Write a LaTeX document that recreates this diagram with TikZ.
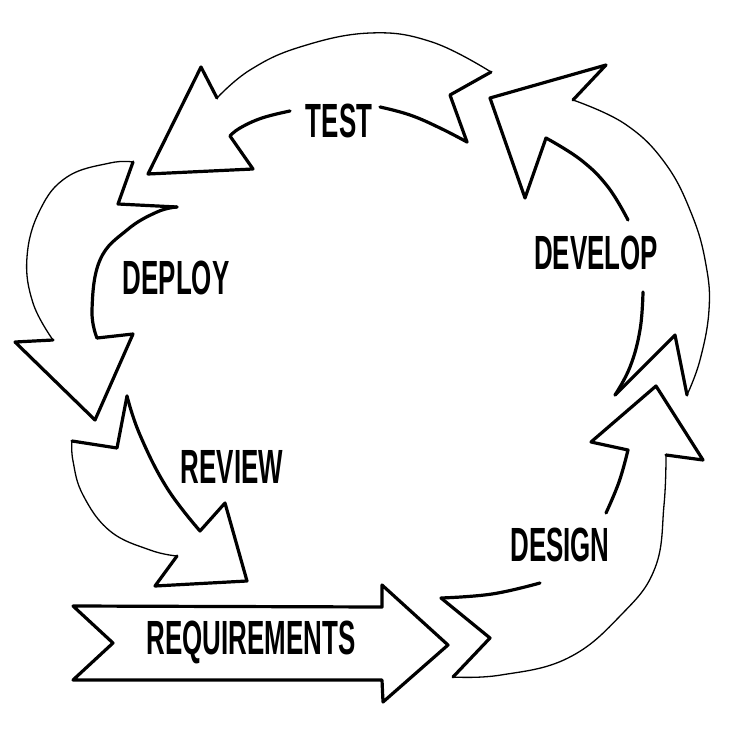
\documentclass[tikz,border=0pt]{standalone}
\usepackage{fontspec}
\setmainfont{Liberation Sans}
\usepackage{graphicx}
\newcommand{\lbltext}[1]{\scalebox{0.54}[1]{\fontsize{48}{48}\selectfont\bfseries #1}}
\begin{document}
\begin{tikzpicture}[x=1pt,y=-1pt,
  thickline/.style={line width=3.2pt,line join=round,line cap=round},
  thinline/.style={line width=1.3pt,line join=round,line cap=round},
  lbl/.style={inner sep=0pt,font=\bfseries}]
\useasboundingbox (0,0) rectangle (738,739);
\fill[white] (0,0) rectangle (738,739);

% REQUIREMENTS arrow
\draw[thickline] (73,606) -- (382,607) -- (382,585) -- (448,645) -- (383,702) -- (382,680) -- (73,680) -- (113,643) -- cycle;
\node[lbl] (req) at (251,642) {\lbltext{REQUIREMENTS}};

% DESIGN arrow
\draw[thickline] plot[smooth,tension=0.7] coordinates {(606,513) (619,482) (628,450)}
  -- (591,442) -- (656,386) -- (703,460) -- (666,455);
\draw[thinline] plot[smooth,tension=0.7] coordinates {(666,455) (664,505) (655,568) (621,615) (568,658) (501,675) (453,677)};
\draw[thickline] (453,677) -- (490,638) -- (441,598);
\draw[thickline] plot[smooth,tension=0.7] coordinates {(441,598) (492,594) (540,583)};
\node[lbl] (design) at (560,545) {\lbltext{DESIGN}};

% DEVELOP arrow
\draw[thickline] plot[smooth,tension=0.7] coordinates {(628,220) (608,187) (581,160) (546,138)}
  -- (525,198) -- (490,98) -- (606,65) -- (573,100);
\draw[thinline] plot[smooth,tension=0.7] coordinates {(573,100) (625,124) (665,163) (692,215) (706,265) (709,310) (700,360) (687,395)};
\draw[thickline] (687,395) -- (675,335) -- (615,395);
\draw[thickline] plot[smooth,tension=0.7] coordinates {(615,395) (630,367) (640,330) (643,292)};
\node[lbl] (develop) at (596,253) {\lbltext{DEVELOP}};

% TEST arrow
\draw[thickline] plot[smooth,tension=0.7] coordinates {(290,111) (262,118) (240,128) (230,136)}
  -- (253,169) -- (148,174) -- (201,67) -- (217,98);
\draw[thinline] plot[smooth,tension=0.7] coordinates {(217,98) (250,70) (300,47) (370,33) (432,42) (491,72)};
\draw[thickline] (491,72) -- (450,95) -- (467,142);
\draw[thickline] plot[smooth,tension=0.7] coordinates {(467,142) (440,128) (410,115) (380,107)};
\node[lbl] (test) at (339,121) {\lbltext{TEST}};

% DEPLOY arrow
\draw[thickline] (177,207) -- (118,204) -- (133,162);
\draw[thinline] plot[smooth,tension=0.7] coordinates {(133,162) (110,163) (67,177) (40,210) (27,257) (33,303) (53,340)};
\draw[thickline] (53,340) -- (15,342) -- (95,420) -- (133,334) -- (97,338);
\draw[thickline] plot[smooth,tension=0.7] coordinates {(97,338) (92,310) (100,260) (127,230) (157,212) (177,207)};
\node[lbl] (deploy) at (176,278) {\lbltext{DEPLOY}};

% REVIEW arrow
\draw[thickline] (72,441) -- (117,448) -- (127,396);
\draw[thickline] plot[smooth,tension=0.7] coordinates {(127,396) (140,435) (167,488) (200,531)}
  -- (225,503) -- (247,581) -- (155,586) -- (177,556);
\draw[thinline] plot[smooth,tension=0.7] coordinates {(177,556) (150,550) (110,531) (83,495) (73,461) (72,441)};
\node[lbl] (review) at (232,467) {\lbltext{REVIEW}};
\end{tikzpicture}
\end{document}
